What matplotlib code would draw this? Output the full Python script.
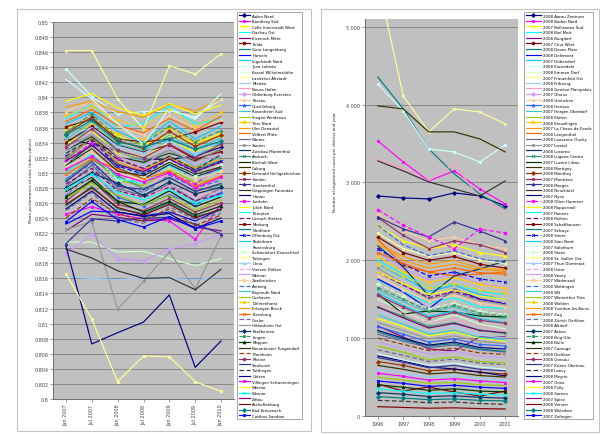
import matplotlib
matplotlib.use("Agg")
import matplotlib.pyplot as plt
from matplotlib.patches import Rectangle

plt.rcParams['font.family'] = ['DejaVu Sans']

# ---- left chart: mean performance per site over seven survey dates ----
LEFT_DATES = ["Jan 2007", "Jul 2007", "Jan 2008", "Jul 2008", "Jan 2009", "Jul 2009", "Jan 2010"]

LEFT_SERIES_01_12 = [
    [0.8345, 0.8338, 0.8329, 0.8318, 0.8318, 0.8322, 0.8334],
    [0.8245, 0.8255, 0.8245, 0.8239, 0.8236, 0.8212, 0.8259],
    [0.8358, 0.8372, 0.8349, 0.8337, 0.8350, 0.8340, 0.8352],
    [0.8372, 0.8390, 0.8360, 0.8366, 0.8388, 0.8365, 0.8371],
    [0.8223, 0.8245, 0.8241, 0.8236, 0.8239, 0.8228, 0.8223],
    [0.8361, 0.8371, 0.8345, 0.8341, 0.8345, 0.8354, 0.8367],
    [0.8318, 0.8346, 0.8312, 0.8300, 0.8322, 0.8304, 0.8316],
    [0.8232, 0.8249, 0.8248, 0.8243, 0.8248, 0.8236, 0.8252],
    [0.8335, 0.8362, 0.8330, 0.8318, 0.8346, 0.8322, 0.8340],
    [0.8438, 0.8401, 0.8378, 0.8381, 0.8382, 0.8374, 0.8398],
    [0.8208, 0.8208, 0.8195, 0.8196, 0.8186, 0.8177, 0.8186],
    [0.8462, 0.8462, 0.8398, 0.8358, 0.8442, 0.8431, 0.8458],
]
LEFT_SERIES_13_24 = [
    [0.8162, 0.8160, 0.8158, 0.8161, 0.8160, 0.8158, 0.8162],
    [0.8296, 0.8330, 0.8302, 0.8286, 0.8297, 0.8268, 0.8300],
    [0.8192, 0.8219, 0.8186, 0.8183, 0.8199, 0.8206, 0.8219],
    [0.8381, 0.8395, 0.8362, 0.8350, 0.8376, 0.8359, 0.8370],
    [0.8270, 0.8301, 0.8268, 0.8256, 0.8271, 0.8258, 0.8274],
    [0.8325, 0.8352, 0.8331, 0.8312, 0.8330, 0.8308, 0.8321],
    [0.8302, 0.8322, 0.8290, 0.8283, 0.8305, 0.8287, 0.8293],
    [0.8345, 0.8365, 0.8352, 0.8344, 0.8360, 0.8339, 0.8349],
    [0.8387, 0.8395, 0.8381, 0.8374, 0.8391, 0.8382, 0.8398],
    [0.8368, 0.8384, 0.8363, 0.8353, 0.8372, 0.8356, 0.8375],
    [0.8282, 0.8310, 0.8279, 0.8270, 0.8285, 0.8262, 0.8280],
    [0.8225, 0.8235, 0.8119, 0.8156, 0.8195, 0.8146, 0.8216],
]
LEFT_SERIES_25_36 = [
    [0.8310, 0.8338, 0.8306, 0.8292, 0.8311, 0.8295, 0.8306],
    [0.8290, 0.8318, 0.8296, 0.8279, 0.8293, 0.8276, 0.8284],
    [0.8275, 0.8294, 0.8262, 0.8258, 0.8276, 0.8255, 0.8268],
    [0.8330, 0.8348, 0.8321, 0.8314, 0.8326, 0.8316, 0.8331],
    [0.8352, 0.8374, 0.8343, 0.8332, 0.8355, 0.8335, 0.8350],
    [0.8262, 0.8290, 0.8258, 0.8250, 0.8266, 0.8248, 0.8260],
    [0.8206, 0.8239, 0.8236, 0.8240, 0.8241, 0.8232, 0.8219],
    [0.8199, 0.8187, 0.8170, 0.8160, 0.8161, 0.8145, 0.8172],
    [0.8203, 0.8073, 0.8088, 0.8102, 0.8138, 0.8042, 0.8077],
    [0.8315, 0.8340, 0.8318, 0.8305, 0.8300, 0.8285, 0.8310],
    [0.8338, 0.8356, 0.8326, 0.8320, 0.8342, 0.8328, 0.8336],
    [0.8300, 0.8326, 0.8292, 0.8286, 0.8309, 0.8290, 0.8304],
]
LEFT_SERIES_37_48 = [
    [0.8285, 0.8306, 0.8276, 0.8268, 0.8281, 0.8263, 0.8272],
    [0.8340, 0.8362, 0.8337, 0.8328, 0.8337, 0.8318, 0.8328],
    [0.8256, 0.8282, 0.8252, 0.8246, 0.8260, 0.8242, 0.8250],
    [0.8322, 0.8344, 0.8309, 0.8298, 0.8318, 0.8301, 0.8315],
    [0.8365, 0.8380, 0.8355, 0.8340, 0.8368, 0.8345, 0.8362],
    [0.8424, 0.8398, 0.8365, 0.8338, 0.8385, 0.8371, 0.8405],
    [0.8312, 0.8330, 0.8289, 0.8295, 0.8316, 0.8296, 0.8310],
    [0.8166, 0.8106, 0.8023, 0.8057, 0.8056, 0.8023, 0.8010],
    [0.8348, 0.8360, 0.8335, 0.8326, 0.8342, 0.8325, 0.8344],
    [0.8272, 0.8296, 0.8273, 0.8262, 0.8284, 0.8268, 0.8276],
    [0.8330, 0.8353, 0.8322, 0.8309, 0.8334, 0.8310, 0.8326],
    [0.8305, 0.8328, 0.8300, 0.8290, 0.8306, 0.8291, 0.8302],
]
LEFT_SERIES_49_60 = [
    [0.8292, 0.8312, 0.8284, 0.8274, 0.8297, 0.8280, 0.8290],
    [0.8344, 0.8368, 0.8338, 0.8329, 0.8350, 0.8331, 0.8346],
    [0.8266, 0.8286, 0.8270, 0.8257, 0.8270, 0.8250, 0.8264],
    [0.8376, 0.8388, 0.8370, 0.8360, 0.8384, 0.8362, 0.8380],
    [0.8320, 0.8345, 0.8314, 0.8303, 0.8320, 0.8307, 0.8318],
    [0.8298, 0.8318, 0.8305, 0.8292, 0.8302, 0.8282, 0.8296],
    [0.8250, 0.8274, 0.8240, 0.8233, 0.8255, 0.8238, 0.8246],
    [0.8336, 0.8350, 0.8328, 0.8316, 0.8330, 0.8314, 0.8332],
    [0.8280, 0.8300, 0.8286, 0.8270, 0.8288, 0.8272, 0.8281],
    [0.8354, 0.8378, 0.8346, 0.8338, 0.8362, 0.8341, 0.8356],
    [0.8268, 0.8290, 0.8262, 0.8248, 0.8262, 0.8244, 0.8256],
    [0.8310, 0.8332, 0.8302, 0.8296, 0.8314, 0.8298, 0.8308],
]
LEFT_SERIES_61_72 = [
    [0.8240, 0.8266, 0.8246, 0.8236, 0.8252, 0.8230, 0.8244],
    [0.8334, 0.8358, 0.8330, 0.8320, 0.8338, 0.8320, 0.8338],
    [0.8288, 0.8315, 0.8282, 0.8278, 0.8294, 0.8275, 0.8286],
    [0.8326, 0.8344, 0.8318, 0.8306, 0.8322, 0.8304, 0.8324],
    [0.8252, 0.8276, 0.8248, 0.8242, 0.8246, 0.8226, 0.8240],
    [0.8305, 0.8322, 0.8298, 0.8288, 0.8300, 0.8280, 0.8294],
    [0.8395, 0.8405, 0.8386, 0.8376, 0.8392, 0.8378, 0.8390],
    [0.8278, 0.8298, 0.8274, 0.8264, 0.8278, 0.8260, 0.8270],
    [0.8316, 0.8336, 0.8310, 0.8302, 0.8318, 0.8302, 0.8314],
    [0.8258, 0.8280, 0.8254, 0.8244, 0.8258, 0.8240, 0.8252],
    [0.8350, 0.8370, 0.8341, 0.8334, 0.8345, 0.8331, 0.8342],
    [0.8235, 0.8262, 0.8238, 0.8228, 0.8242, 0.8226, 0.8236],
]

LEFT_NAMES = [
    "Aalen Nord", "Bamberg Süd", "Celle Innenstadt West", "Dachau Ost", "Eisenach Mitte", "Fulda",
    "Gera Langenberg", "Hameln", "Ingolstadt Nord", "Jena Lobeda", "Kassel Wilhelmshöhe", "Landshut Altstadt",
    "Minden", "Neuss Hafen", "Oldenburg Eversten", "Passau", "Quedlinburg", "Rosenheim Süd",
    "Siegen Weidenau", "Trier Nord", "Ulm Donautal", "Velbert Mitte", "Worms", "Xanten",
    "Zwickau Marienthal", "Ansbach", "Bocholt West", "Coburg", "Detmold Heiligenkirchen", "Emden",
    "Frankenthal", "Göppingen Faurndau", "Hanau", "Iserlohn", "Jülich Nord", "Kempten",
    "Lörrach Stetten", "Marburg", "Nordhorn", "Offenburg Ost", "Paderborn", "Ravensburg",
    "Schweinfurt Deutschhof", "Tübingen", "Unna", "Viersen Dülken", "Weimar", "Zweibrücken",
    "Amberg", "Bayreuth Nord", "Cuxhaven", "Delmenhorst", "Erlangen Bruck", "Flensburg",
    "Goslar", "Hildesheim Ost", "Kaufbeuren", "Lingen", "Meppen", "Neumünster Tungendorf",
    "Pforzheim", "Rheine", "Stralsund", "Tuttlingen", "Uelzen", "Villingen Schwenningen",
    "Wetzlar", "Wismar", "Zittau", "Aschaffenburg", "Bad Kreuznach", "Cottbus Sandow",
]
LEFT_YTICKS = [0.800, 0.802, 0.804, 0.806, 0.808, 0.810, 0.812, 0.814, 0.816, 0.818, 0.820, 0.822, 0.824,
               0.826, 0.828, 0.830, 0.832, 0.834, 0.836, 0.838, 0.840, 0.842, 0.844, 0.846, 0.848, 0.850]

# ---- right chart: yearly counts per district ----
RIGHT_YEARS = ["1996", "1997", "1998", "1999", "2000", "2001"]

RIGHT_SERIES_01_12 = [
    [2827, 2801, 2789, 2866, 2827, 2699],
    [3534, 3264, 3020, 3148, 2917, 2724],
    [2450, 2250, 2150, 2200, 2100, 2050],
    [1750, 1600, 1450, 1520, 1400, 1380],
    [1157, 1015, 861, 835, 1015, 1015],
    [2300, 2100, 2000, 2050, 1950, 1900],
    [4356, 3945, 3431, 3110, 2853, 2660],
    [1760, 1593, 1375, 1632, 1503, 1439],
    [1950, 1780, 1600, 1680, 1560, 1500],
    [4266, 3919, 3431, 3392, 3264, 3482],
    [1500, 1350, 1200, 1300, 1180, 1120],
    [5600, 4112, 3650, 3945, 3906, 3752],
]
RIGHT_SERIES_13_24 = [
    [1350, 1220, 1080, 1150, 1040, 1000],
    [3302, 3174, 3020, 3238, 2789, 2634],
    [2100, 1900, 1750, 1820, 1700, 1650],
    [2600, 2380, 2250, 2300, 2200, 2150],
    [1150, 1050, 950, 990, 920, 900],
    [1620, 1470, 1330, 1400, 1290, 1250],
    [900, 820, 720, 760, 700, 680],
    [2050, 1850, 1720, 1780, 1690, 1640],
    [2250, 2000, 1900, 1950, 1880, 1860],
    [2274, 1928, 1850, 1799, 1825, 1850],
    [1050, 960, 880, 910, 850, 820],
    [1900, 1700, 1500, 1580, 1480, 1430],
]
RIGHT_SERIES_25_36 = [
    [2185, 1915, 1542, 1799, 1889, 1992],
    [1400, 1280, 1150, 1200, 1100, 1060],
    [1568, 1311, 1349, 1336, 1285, 1272],
    [3984, 3945, 3650, 3650, 3560, 3392],
    [700, 650, 580, 600, 560, 540],
    [2550, 2320, 2150, 2250, 2200, 2100],
    [2557, 2403, 2300, 2493, 2377, 2249],
    [3277, 3148, 3007, 2917, 2827, 3020],
    [771, 707, 630, 604, 565, 514],
    [2650, 2450, 2300, 2150, 2400, 2350],
    [1250, 1150, 1030, 1080, 1000, 960],
    [2000, 1820, 1650, 1700, 1600, 1560],
]
RIGHT_SERIES_37_48 = [
    [1850, 1680, 1520, 1600, 1500, 1450],
    [411, 321, 373, 308, 257, 321],
    [1080, 980, 900, 930, 860, 830],
    [2150, 1950, 1800, 1850, 1760, 1720],
    [1580, 1420, 1280, 1350, 1250, 1200],
    [800, 720, 650, 680, 630, 600],
    [1700, 1540, 1380, 1450, 1350, 1300],
    [2350, 2150, 2050, 2100, 2000, 1960],
    [600, 550, 500, 520, 480, 460],
    [1450, 1320, 1200, 1250, 1150, 1100],
    [950, 870, 800, 830, 770, 750],
    [1800, 1620, 1480, 1550, 1450, 1400],
]
RIGHT_SERIES_49_60 = [
    [2450, 2200, 2060, 2120, 2020, 1970],
    [1300, 1180, 1050, 1100, 1010, 980],
    [500, 460, 420, 430, 400, 390],
    [1950, 1800, 1650, 1700, 1620, 1580],
    [2200, 2050, 1950, 2000, 1900, 1880],
    [2100, 1960, 1850, 1900, 1840, 1820],
    [850, 780, 700, 730, 680, 660],
    [1200, 1100, 990, 1030, 960, 930],
    [300, 280, 250, 260, 240, 230],
    [1650, 1500, 1350, 1420, 1320, 1280],
    [400, 370, 330, 350, 320, 310],
    [650, 600, 540, 560, 520, 500],
]
RIGHT_SERIES_61_72 = [
    [1000, 920, 840, 870, 810, 790],
    [1550, 1400, 1260, 1330, 1230, 1190],
    [750, 690, 620, 650, 600, 580],
    [200, 190, 170, 180, 160, 150],
    [1100, 1000, 910, 950, 880, 860],
    [550, 510, 460, 480, 450, 430],
    [1850, 1700, 1560, 1620, 1540, 1500],
    [350, 320, 290, 300, 280, 270],
    [1400, 1260, 1130, 1190, 1100, 1070],
    [120, 110, 100, 105, 95, 90],
    [250, 230, 210, 220, 200, 195],
    [450, 420, 380, 395, 370, 355],
]

RIGHT_NAMES = [
    "2008 Aarau Zentrum", "2008 Baden Nord", "2007 Bellinzona Sud", "2008 Biel Mett", "2008 Burgdorf",
    "2007 Chur West", "2008 Davos Platz", "2008 Delémont", "2007 Dübendorf", "2008 Einsiedeln",
    "2008 Emmen Dorf", "2007 Frauenfeld Ost", "2008 Fribourg", "2008 Genève Plainpalais", "2007 Glarus",
    "2008 Grenchen", "2008 Herisau", "2007 Horgen Oberdorf", "2008 Kloten", "2008 Kreuzlingen",
    "2007 La Chaux-de-Fonds", "2008 Langenthal", "2008 Lausanne Ouchy", "2007 Liestal", "2008 Locarno",
    "2008 Lugano Centro", "2007 Luzern Littau", "2008 Martigny", "2008 Monthey", "2007 Montreux",
    "2008 Morges", "2008 Neuchâtel", "2007 Nyon", "2008 Olten Hammer", "2008 Rapperswil",
    "2007 Renens", "2008 Riehen", "2008 Schaffhausen", "2007 Schwyz", "2008 Sierre",
    "2008 Sion Nord", "2007 Solothurn", "2008 Stans", "2008 St. Gallen Ost", "2007 Thun Dürrenast",
    "2008 Uster", "2008 Vevey", "2007 Wädenswil", "2008 Wettingen", "2008 Wil",
    "2007 Winterthur Töss", "2008 Wohlen", "2008 Yverdon-les-Bains", "2007 Zug", "2008 Zürich Oerlikon",
    "2008 Altdorf", "2007 Arbon", "2008 Brig Glis", "2008 Bulle", "2007 Carouge",
    "2008 Dietikon", "2008 Gossau", "2007 Kriens Obernau", "2008 Lancy", "2008 Meyrin",
    "2007 Onex", "2008 Pully", "2008 Sarnen", "2007 Spiez", "2008 Vernier",
    "2008 Wetzikon", "2007 Zofingen",
]
RIGHT_YTICKS = [0, 1000, 2000, 3000, 4000, 5000]

# classic spreadsheet chart palette and marker cycle
PALETTE = ["#000080", "#FF00FF", "#FFFF00", "#00FFFF", "#800080", "#800000", "#008080", "#0000FF",
           "#00CCFF", "#CCFFFF", "#CCFFCC", "#FFFF99", "#99CCFF", "#FF99CC", "#CC99FF", "#FFCC99",
           "#3366FF", "#33CCCC", "#99CC00", "#FFCC00", "#FF9900", "#FF6600", "#666699", "#969696",
           "#003366", "#339966", "#003300", "#333300", "#993300", "#993366", "#333399", "#333333"]
MARKERS = ["D", "s", "^", None, None, "o", None, None, None, "s", None, "x", None, None]

W, H = 600, 435


def px_rect(x0, y0, x1, y1):
    """Figure-fraction rectangle from pixel coordinates measured from the top-left."""
    return [x0 / W, 1 - y1 / H, (x1 - x0) / W, (y1 - y0) / H]


def draw_series(ax, series, names):
    for i, (vals, name) in enumerate(zip(series, names)):
        color = PALETTE[i % len(PALETTE)]
        marker = MARKERS[i % len(MARKERS)]
        ls = "-" if (i // 32) % 2 == 0 or i % 3 else (0, (4, 2))
        ax.plot(range(len(vals)), vals, color=color, lw=0.85, ls=ls,
                marker=marker, ms=2.0, mec=color, mfc=color, mew=0.6, label=name)


def style_axes(ax, n):
    ax.set_facecolor("#c0c0c0")
    ax.set_xlim(-0.5, n - 0.5)
    ax.yaxis.grid(True, color="#7f7f7f", lw=0.6)
    ax.set_axisbelow(True)
    for s in ("top", "right"):
        ax.spines[s].set_visible(False)
    for s in ("left", "bottom"):
        ax.spines[s].set_color("#6e6e6e")
        ax.spines[s].set_linewidth(0.7)
    ax.tick_params(axis="both", labelsize=3.5, length=2, width=0.5, color="#6e6e6e",
                   pad=1.5, labelcolor="#444444")


fig = plt.figure(figsize=(6.0, 4.35), dpi=100)
fig.patch.set_facecolor("white")

# white chart frames
for box in (px_rect(17, 10, 311, 432), px_rect(321, 10, 599, 433)):
    fig.add_artist(Rectangle((box[0], box[1]), box[2], box[3], transform=fig.transFigure,
                             facecolor="white", edgecolor="#c4c4c4", lw=0.8, zorder=0))

left_series = (LEFT_SERIES_01_12 + LEFT_SERIES_13_24 + LEFT_SERIES_25_36 +
               LEFT_SERIES_37_48 + LEFT_SERIES_49_60 + LEFT_SERIES_61_72)
right_series = (RIGHT_SERIES_01_12 + RIGHT_SERIES_13_24 + RIGHT_SERIES_25_36 +
                RIGHT_SERIES_37_48 + RIGHT_SERIES_49_60 + RIGHT_SERIES_61_72)

# left panel
axL = fig.add_axes(px_rect(53, 23, 234, 400))
draw_series(axL, left_series, LEFT_NAMES)
style_axes(axL, len(LEFT_DATES))
axL.set_ylim(LEFT_YTICKS[0], LEFT_YTICKS[-1])
axL.set_yticks(LEFT_YTICKS)
axL.set_yticklabels([f"{v:.3f}".rstrip("0") for v in LEFT_YTICKS])
axL.set_xticks(range(len(LEFT_DATES)))
axL.set_xticklabels(LEFT_DATES, rotation=90)
axL.set_ylabel("Mean performance of sites (index values)", fontsize=3.0, color="#222222")
axL.yaxis.set_label_coords((33 - 53) / 181, (400 - 180) / 377)

# right panel
axR = fig.add_axes(px_rect(365, 20, 518, 417))
draw_series(axR, right_series, RIGHT_NAMES)
style_axes(axR, len(RIGHT_YEARS))
axR.set_ylim(0, 5100)
axR.set_yticks(RIGHT_YTICKS)
axR.set_yticklabels([f"{v:,}".replace(",", " ") for v in RIGHT_YTICKS])
axR.set_xticks(range(len(RIGHT_YEARS)))
axR.set_xticklabels(RIGHT_YEARS)
axR.set_ylabel("Number of registered cases per district and year", fontsize=3.0, color="#222222")
axR.yaxis.set_label_coords((337 - 365) / 153, (417 - 162) / 397)

legend_kw = dict(loc="upper left", fontsize=2.8, labelspacing=0.42, borderpad=0.4,
                 handletextpad=0.5, borderaxespad=0, fancybox=False,
                 edgecolor="#9a9a9a", framealpha=1, numpoints=1)
legL = fig.legend(*axL.get_legend_handles_labels(), bbox_to_anchor=(237 / W, 1 - 13 / H),
                  handlelength=3.0, **legend_kw)
legR = fig.legend(*axR.get_legend_handles_labels(), bbox_to_anchor=(524 / W, 1 - 13 / H),
                  handlelength=4.0, **legend_kw)
for leg in (legL, legR):
    leg.get_frame().set_linewidth(0.6)

fig.savefig("out.png", dpi=100, facecolor="white")
